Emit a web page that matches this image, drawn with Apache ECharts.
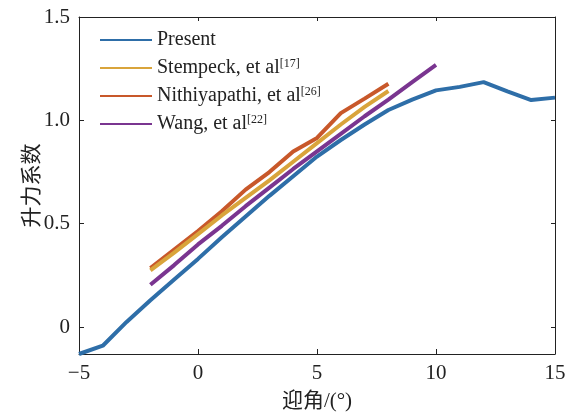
<!DOCTYPE html>
<html>
<head>
<meta charset="utf-8">
<script src="https://cdn.jsdelivr.net/npm/echarts@6/dist/echarts.min.js"></script>
<style>
html, body { margin: 0; padding: 0; background: #fff; }
#chart { width: 574px; height: 417px; }
</style>
</head>
<body>
<div id="chart"></div>
<script>
// 迎角 (deg) and lift coefficient
var presentX = [-5, -4, -3, -2, -1, 0, 1, 2, 3, 4, 5, 6, 7, 8, 9, 10, 11, 12, 13, 14, 15];
var presentY = [-0.13, -0.09, 0.025, 0.13, 0.23, 0.33, 0.435, 0.535, 0.635, 0.73, 0.825, 0.905, 0.98, 1.05, 1.10, 1.145, 1.162, 1.185, 1.14, 1.098, 1.11];

var stempeckX = [-2, -1, 0, 1, 2, 3, 4, 5, 6, 7, 8];
var stempeckY = [0.275, 0.36, 0.45, 0.54, 0.625, 0.71, 0.80, 0.89, 0.98, 1.065, 1.142];

var nithiX = [-2, -1, 0, 1, 2, 3, 4, 5, 6, 7, 8];
var nithiY = [0.285, 0.375, 0.465, 0.56, 0.665, 0.75, 0.85, 0.915, 1.035, 1.105, 1.177];

var wangX = [-2, -1, 0, 1, 2, 3, 4, 5, 6, 7, 8, 9, 10];
var wangY = [0.205, 0.30, 0.40, 0.49, 0.585, 0.675, 0.765, 0.85, 0.935, 1.02, 1.10, 1.185, 1.268];

var yTicks = [0, 0.5, 1.0, 1.5];

var colors = {
    Present: '#2e6ea8',
    Stempeck: '#d9a43b',
    Nithiyapathi: '#c8582a',
    Wang: '#7a3590'
};

function pairs(xs, ys) {
    return xs.map(function (x, i) { return [x, ys[i]]; });
}

function lineSeries(name, xs, ys, z) {
    return {
        name: name,
        type: 'line',
        data: pairs(xs, ys),
        showSymbol: false,
        itemStyle: { color: colors[name] },
        lineStyle: { width: 4, color: colors[name] },
        z: z
    };
}

var serif = '"Liberation Serif", "Times New Roman", serif';
var cjk = '"Liberation Serif", "Noto Sans CJK SC", serif';
var ink = '#222';

var myChart = echarts.init(document.getElementById('chart'));

var option = {
    animation: false,
    grid: {
        left: 79,
        right: 19,
        top: 17,
        bottom: 60
    },
    legend: {
        orient: 'vertical',
        left: 95,
        top: 25,
        itemWidth: 52,
        itemHeight: 2,
        itemGap: 8,
        icon: 'rect',
        data: ['Present', 'Stempeck', 'Nithiyapathi', 'Wang'],
        formatter: function (name) {
            if (name === 'Stempeck') return '{t|Stempeck, et al}{s|[17]}';
            if (name === 'Nithiyapathi') return '{t|Nithiyapathi, et al}{s|[26]}';
            if (name === 'Wang') return '{t|Wang, et al}{s|[22]}';
            return '{t|' + name + '}';
        },
        textStyle: {
            color: ink,
            rich: {
                t: { fontFamily: serif, fontSize: 20, color: ink, lineHeight: 20, verticalAlign: 'bottom' },
                s: { fontFamily: serif, fontSize: 12, color: ink, lineHeight: 20, verticalAlign: 'top', padding: [0, 0, 7, 0] }
            }
        }
    },
    xAxis: [{
        type: 'value',
        min: -5,
        max: 15,
        interval: 5,
        name: '迎角/(°)',
        nameLocation: 'middle',
        nameGap: 37,
        nameMoveOverlap: false,
        nameTextStyle: { fontFamily: cjk, fontSize: 21, color: ink },
        axisLine: { onZero: false, lineStyle: { color: ink, width: 1 } },
        axisTick: { inside: true, length: 5, lineStyle: { color: ink } },
        axisLabel: {
            fontFamily: serif, fontSize: 21, color: ink, margin: 9,
            formatter: function (v) { return String(v).replace('-', '\u2212'); }
        },
        splitLine: { show: false }
    }, {
        type: 'value',
        position: 'top',
        min: -5,
        max: 15,
        interval: 5,
        axisLine: { show: true, onZero: false, lineStyle: { color: ink, width: 1 } },
        axisTick: { inside: true, length: 4, lineStyle: { color: ink } },
        axisLabel: { show: false },
        splitLine: { show: false }
    }],
    yAxis: [{
        type: 'value',
        min: -0.13,
        max: 1.5,
        name: '升力系数',
        nameLocation: 'middle',
        nameGap: 36,
        nameMoveOverlap: false,
        nameTextStyle: { fontFamily: cjk, fontSize: 21, color: ink },
        axisLine: { show: true, onZero: false, lineStyle: { color: ink, width: 1 } },
        axisTick: { inside: true, length: 5, customValues: yTicks, lineStyle: { color: ink } },
        axisLabel: {
            fontFamily: serif, fontSize: 21, color: ink, margin: 9,
            customValues: yTicks,
            formatter: function (v) { return v === 0 ? '0' : v.toFixed(1); }
        },
        splitLine: { show: false }
    }, {
        type: 'value',
        position: 'right',
        min: -0.13,
        max: 1.5,
        axisLine: { show: true, onZero: false, lineStyle: { color: ink, width: 1 } },
        axisTick: { inside: true, length: 4, customValues: yTicks, lineStyle: { color: ink } },
        axisLabel: { show: false },
        splitLine: { show: false }
    }],
    series: [
        lineSeries('Present', presentX, presentY, 2),
        lineSeries('Nithiyapathi', nithiX, nithiY, 3),
        lineSeries('Stempeck', stempeckX, stempeckY, 4),
        lineSeries('Wang', wangX, wangY, 5)
    ]
};

myChart.setOption(option);
</script>
</body>
</html>
